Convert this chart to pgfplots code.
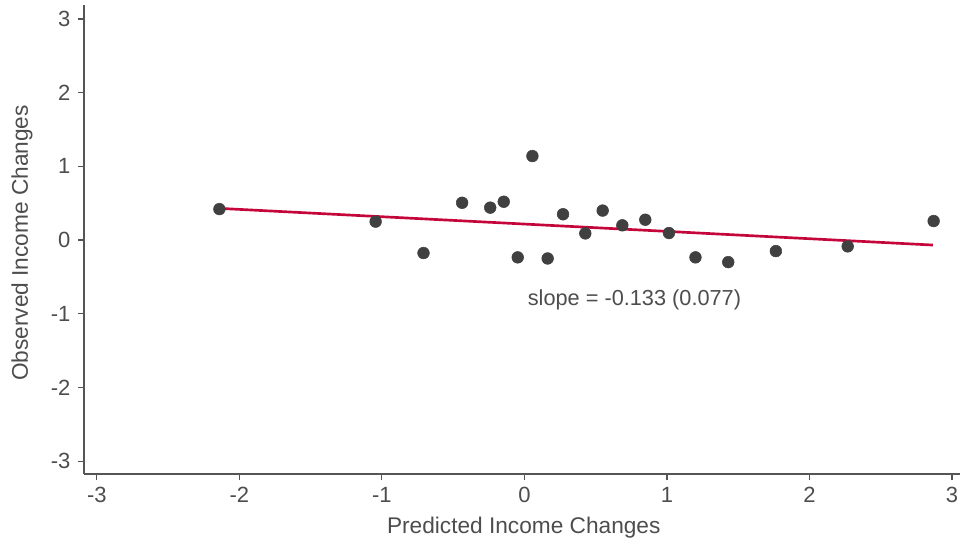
\documentclass[border=0pt]{standalone}
\usepackage{pgfplots}
\pgfplotsset{compat=1.18}
\usepackage{fontspec}
\setmainfont{Liberation Sans}
\definecolor{txt}{HTML}{4D4D4D}
\definecolor{axl}{HTML}{555555}
\definecolor{ptc}{HTML}{404040}
\definecolor{fitc}{HTML}{C4063A}
\begin{document}
\fontsize{16.5}{19.8}\selectfont
\begin{tikzpicture}
\useasboundingbox (-63pt,-51pt) rectangle (657pt,355.5pt);
\begin{axis}[
  at={(0,0)}, anchor=south west, scale only axis,
  width=657pt, height=351.75pt,
  xmin=-3.09, xmax=3.056, ymin=-3.175, ymax=3.19,
  axis x line*=bottom, axis y line*=left,
  axis line style={draw=axl, line width=1.1pt, -},
  xtick={-3,-2,-1,0,1,2,3}, ytick={-3,-2,-1,0,1,2,3},
  tick align=outside, major tick length=4.5pt,
  tick style={draw=axl, line width=0.9pt},
  tick label style={font=\fontsize{16.5}{19.8}\selectfont, text=txt},
  /pgf/number format/assume math mode=true,
  xlabel={Predicted Income Changes}, ylabel={Observed Income Changes},
  label style={font=\fontsize{17}{20.4}\selectfont, text=txt},
  xlabel style={at={(axis description cs:0.502,-0.1150)}, anchor=center},
  ylabel style={at={(axis description cs:-0.0708,0.4925)}, anchor=center},
  clip=false,
]
\addplot[fitc, line width=2pt] coordinates {(-2.14,0.43) (2.866,-0.068)};
\addplot[only marks, mark=*, mark size=4.4pt, color=ptc, mark options={draw=ptc, fill=ptc}] coordinates {
(-2.14,0.42) (-1.044,0.25) (-0.708,-0.176) (-0.437,0.506) (-0.24,0.44)
(-0.145,0.52) (0.056,1.14) (-0.047,-0.235) (0.163,-0.25) (0.271,0.35)
(0.427,0.09) (0.549,0.40) (0.687,0.20) (0.848,0.276) (1.014,0.095)
(1.20,-0.235) (1.43,-0.30) (1.764,-0.15) (2.268,-0.086) (2.871,0.258)
};
\node[text=txt, font=\fontsize{16.3}{19.6}\selectfont] at (axis cs:0.772,-0.814) {slope = -0.133 (0.077)};
\end{axis}
\end{tikzpicture}
\end{document}
